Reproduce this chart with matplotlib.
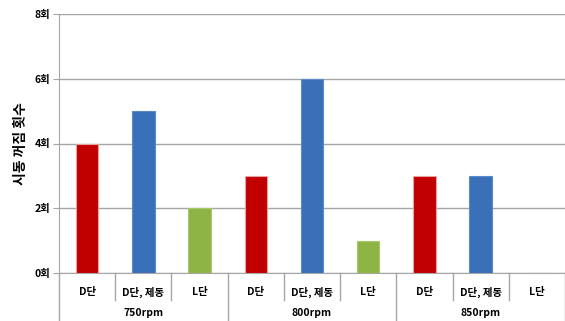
import numpy as np
import matplotlib.pyplot as plt

plt.rcParams['font.family'] = ['Noto Sans CJK KR', 'DejaVu Sans']

groups = ['750rpm', '800rpm', '850rpm']
modes = ['D단', 'D단, 제동', 'L단']
counts = [4, 5, 2, 3, 6, 1, 3, 3, 0]
bar_colors = ['#C00000', '#3A70B8', '#8DB444']
edge_colors = ['#E8A0A0', '#5B8BCB', '#A8C870']
yticks = [0, 2, 4, 6, 8]

fig = plt.figure(figsize=(5.65, 3.21), dpi=100)
ax = fig.add_axes([59 / 565, 48 / 321, 506 / 565, 259 / 321])

n = len(counts)
x = np.arange(n)
colors = [bar_colors[i % 3] for i in range(n)]
edges = [edge_colors[i % 3] for i in range(n)]
ax.bar(x, counts, width=0.4, color=colors, edgecolor=edges, linewidth=0.8, zorder=3)

ax.set_xlim(-0.5, n - 0.5)
ax.set_ylim(0, 8)
ax.set_yticks(yticks)
ax.set_yticklabels([f'{v}회' for v in yticks], fontsize=7.5, fontweight='bold')
ax.yaxis.grid(True, color='#A6A6A6', linewidth=1)
ax.set_axisbelow(True)
ax.tick_params(axis='y', length=4, color='#A6A6A6', pad=2)
ax.tick_params(axis='x', length=0)
ax.set_xticks([])

for side in ['top', 'right']:
    ax.spines[side].set_visible(False)
ax.spines['left'].set_color('#A6A6A6')
ax.spines['bottom'].set_color('#A6A6A6')
ax.spines['left'].set_bounds(0, 8)

ax.set_ylabel('시동 꺼짐 횟수', fontsize=10, fontweight='bold', labelpad=5)

# category separators and two-level labels below the axis
trans = ax.get_xaxis_transform()
for b in range(n + 1):
    pos = b - 0.5
    bottom = -0.19 if b % 3 == 0 else -0.105
    ax.plot([pos, pos], [0, bottom], transform=trans, color='#A6A6A6',
            linewidth=1, clip_on=False)

for i in range(n):
    ax.text(i, -0.075, modes[i % 3], transform=trans, ha='center', va='center',
            fontsize=7.5, fontweight='bold')
for g, name in enumerate(groups):
    ax.text(3 * g + 1, -0.155, name, transform=trans, ha='center', va='center',
            fontsize=7.5, fontweight='bold')

fig.savefig('out.png', dpi=100)
